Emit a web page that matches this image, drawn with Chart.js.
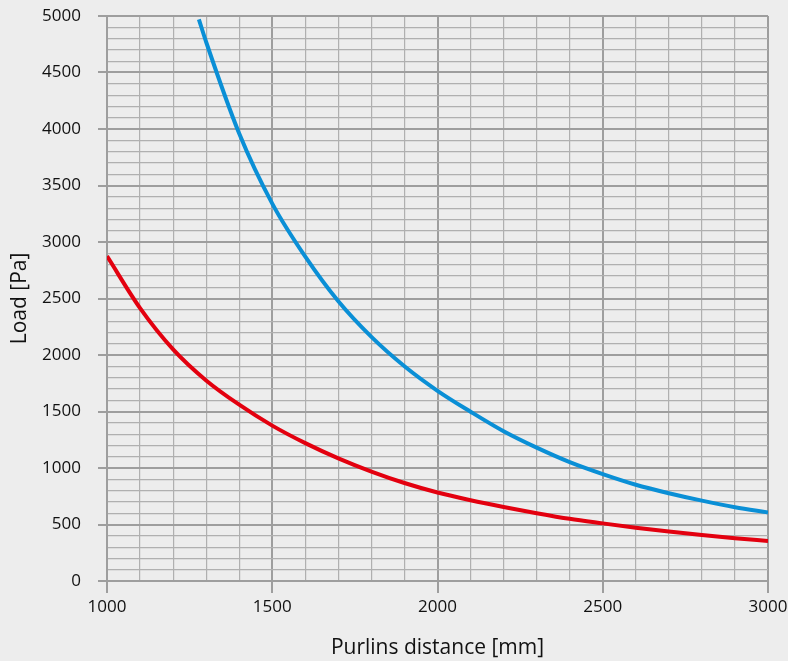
<!DOCTYPE html>
<html>
<head>
<meta charset="utf-8">
<script src="https://cdn.jsdelivr.net/npm/chart.js@4.4.1/dist/chart.umd.min.js"></script>
<style>
    html, body { margin: 0; padding: 0; background: #ededed; }
    #wrap { width: 788px; height: 661px; position: relative; }
</style>
</head>
<body>
<div id="wrap"><canvas id="loadChart"></canvas></div>
<script>
// Red curve, one reading per 100 mm
const redDistance = [1000, 1100, 1200, 1300, 1400, 1500, 1600, 1700, 1800, 1900, 2000,
                     2100, 2200, 2300, 2400, 2500, 2600, 2700, 2800, 2900, 3000];
const redLoad = [2875, 2415, 2050, 1775, 1560, 1375, 1220, 1085, 968, 867, 783,
                 715, 655, 600, 550, 510, 472, 438, 407, 379, 355];

// Blue curve starts where it leaves the top of the plot
const blueDistance = [1278, 1300, 1400, 1500, 1600, 1700, 1800, 1900, 2000,
                      2100, 2200, 2300, 2400, 2500, 2600, 2700, 2800, 2900, 3000];
const blueLoad = [4970, 4770, 3960, 3340, 2870, 2475, 2160, 1900, 1683,
                  1498, 1325, 1180, 1052, 946, 852, 777, 711, 653, 607];

const xTicks = [1000, 1500, 2000, 2500, 3000];
const yTicks = [0, 500, 1000, 1500, 2000, 2500, 3000, 3500, 4000, 4500, 5000];

const toPoints = (xs, ys) => xs.map((x, i) => ({ x: x, y: ys[i] }));

const majorColor = '#9e9e9e';
const minorColor = '#b0b0b0';

document.addEventListener('DOMContentLoaded', function() {
    const ctx = document.getElementById('loadChart').getContext('2d');

    const isMajor = (v, list) => list.indexOf(v) !== -1;

    new Chart(ctx, {
        type: 'line',
        data: {
            datasets: [
                {
                    data: toPoints(blueDistance, blueLoad),
                    borderColor: '#0a8fd6',
                    borderWidth: 4,
                    pointRadius: 0,
                    cubicInterpolationMode: 'monotone',
                    fill: false
                },
                {
                    data: toPoints(redDistance, redLoad),
                    borderColor: '#e3000f',
                    borderWidth: 4,
                    pointRadius: 0,
                    cubicInterpolationMode: 'monotone',
                    fill: false
                }
            ]
        },
        options: {
            responsive: true,
            maintainAspectRatio: false,
            animation: false,
            devicePixelRatio: 1,
            layout: { padding: { top: 16, right: 20, left: 0, bottom: 0 } },
            plugins: {
                legend: { display: false },
                tooltip: { enabled: false }
            },
            scales: {
                x: {
                    type: 'linear',
                    min: 1000,
                    max: 3000,
                    afterFit: function(scale) {
                        scale.height = 80;
                        scale.paddingLeft = 0;
                        scale.paddingRight = 0;
                    },
                    border: { color: majorColor, width: 2 },
                    grid: {
                        tickLength: 12,
                        color: c => isMajor(c.tick.value, xTicks) ? majorColor : minorColor,
                        lineWidth: c => isMajor(c.tick.value, xTicks) ? 2 : 1.2,
                        tickColor: c => isMajor(c.tick.value, xTicks) ? majorColor : 'rgba(0,0,0,0)'
                    },
                    ticks: {
                        stepSize: 100,
                        autoSkip: false,
                        maxRotation: 0,
                        padding: 4,
                        color: '#111',
                        font: { family: 'Open Sans', size: 17 },
                        callback: v => isMajor(v, xTicks) ? String(v) : ''
                    },
                    title: {
                        display: true,
                        text: 'Purlins distance [mm]',
                        color: '#111',
                        font: { family: 'Open Sans', size: 21 },
                        padding: { top: 0, bottom: 0 }
                    }
                },
                y: {
                    min: 0,
                    max: 5000,
                    afterFit: function(scale) {
                        scale.width = 107;
                        scale.paddingTop = 0;
                        scale.paddingBottom = 0;
                    },
                    border: { color: majorColor, width: 2 },
                    grid: {
                        tickLength: 9,
                        color: c => isMajor(c.tick.value, yTicks) ? majorColor : minorColor,
                        lineWidth: c => isMajor(c.tick.value, yTicks) ? 2 : 1.2,
                        tickColor: c => isMajor(c.tick.value, yTicks) ? majorColor : 'rgba(0,0,0,0)'
                    },
                    ticks: {
                        stepSize: 100,
                        autoSkip: false,
                        maxTicksLimit: 100,
                        padding: 17,
                        color: '#111',
                        font: { family: 'Open Sans', size: 17 },
                        callback: v => isMajor(v, yTicks) ? String(v) : ''
                    },
                    title: {
                        display: true,
                        text: 'Load [Pa]',
                        color: '#111',
                        font: { family: 'Open Sans', size: 21 },
                        padding: { top: 7, bottom: 0 }
                    }
                }
            }
        }
    });
});
</script>
</body>
</html>
